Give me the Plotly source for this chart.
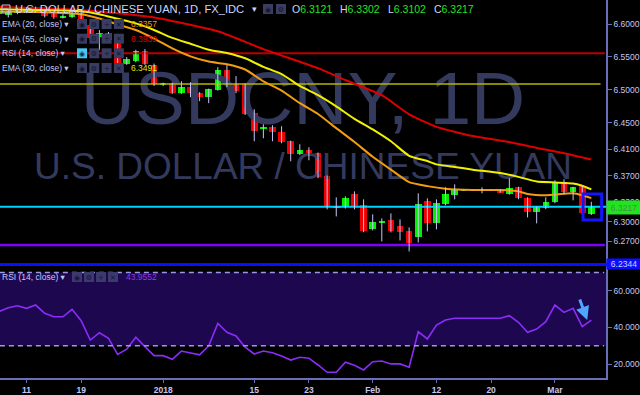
import plotly.graph_objects as go

# ---------------- data ----------------
dates = [
    "2017-12-06", "2017-12-07", "2017-12-08", "2017-12-11", "2017-12-12", "2017-12-13", "2017-12-14",
    "2017-12-15", "2017-12-18", "2017-12-19", "2017-12-20", "2017-12-21", "2017-12-22", "2017-12-25",
    "2017-12-26", "2017-12-27", "2017-12-28", "2017-12-29", "2018-01-01", "2018-01-02", "2018-01-03",
    "2018-01-04", "2018-01-05", "2018-01-08", "2018-01-09", "2018-01-10", "2018-01-11", "2018-01-12",
    "2018-01-15", "2018-01-16", "2018-01-17", "2018-01-18", "2018-01-19", "2018-01-22", "2018-01-23",
    "2018-01-24", "2018-01-25", "2018-01-26", "2018-01-29", "2018-01-30", "2018-01-31", "2018-02-01",
    "2018-02-02", "2018-02-05", "2018-02-06", "2018-02-07", "2018-02-08", "2018-02-09", "2018-02-12",
    "2018-02-13", "2018-02-14", "2018-02-15", "2018-02-16", "2018-02-19", "2018-02-20", "2018-02-21",
    "2018-02-22", "2018-02-23", "2018-02-26", "2018-02-27", "2018-02-28", "2018-03-01", "2018-03-02",
    "2018-03-05", "2018-03-06", "2018-03-07",
]
opens = [
    6.6160, 6.6137, 6.6182, 6.6205, 6.6212, 6.6182, 6.6150, 6.6106, 6.6106, 6.6167, 6.5985, 6.5802,
    6.5863, 6.5772, 6.5392, 6.5438, 6.5589, 6.5377, 6.5072, 6.5103, 6.4951, 6.5042, 6.4951, 6.4890,
    6.4996, 6.5300, 6.5088, 6.5088, 6.4647, 6.4403, 6.4434, 6.4358, 6.4221, 6.4023, 6.4084, 6.4038,
    6.3689, 6.3215, 6.3217, 6.3415, 6.3248, 6.2883, 6.2989, 6.3020, 6.2928, 6.2852, 6.2761, 6.3308,
    6.2974, 6.3263, 6.3400, 6.3474, 6.3478, 6.3478, 6.3474, 6.3476, 6.3415, 6.3521, 6.3354, 6.3141,
    6.3202, 6.3293, 6.3597, 6.3445, 6.3536, 6.3121,
]
highs = [
    6.6250, 6.6225, 6.6245, 6.6255, 6.6265, 6.6228, 6.6180, 6.6150, 6.6190, 6.6200, 6.6020, 6.5909,
    6.5880, 6.5790, 6.5500, 6.5610, 6.5620, 6.5400, 6.5110, 6.5110, 6.5133, 6.5118, 6.4966, 6.5020,
    6.5346, 6.5377, 6.5209, 6.5100, 6.4707, 6.4479, 6.4464, 6.4449, 6.4230, 6.4175, 6.4130, 6.4050,
    6.3700, 6.3369, 6.3384, 6.3460, 6.3339, 6.3111, 6.3050, 6.3126, 6.3035, 6.2913, 6.3430, 6.3354,
    6.3339, 6.3521, 6.3567, 6.3480, 6.3482, 6.3521, 6.3480, 6.3490, 6.3658, 6.3530, 6.3370, 6.3230,
    6.3369, 6.3628, 6.3643, 6.3530, 6.3550, 6.3302,
]
lows = [
    6.6120, 6.6100, 6.6150, 6.6165, 6.6180, 6.6100, 6.6080, 6.6085, 6.6090, 6.6030, 6.5770, 6.5605,
    6.5740, 6.5390, 6.5380, 6.5420, 6.5380, 6.5060, 6.5060, 6.4940, 6.4940, 6.4890, 6.4829, 6.4799,
    6.4990, 6.5042, 6.4951, 6.4620, 6.4221, 6.4266, 6.4221, 6.4190, 6.3917, 6.4010, 6.3932, 6.3660,
    6.3187, 6.3080, 6.3200, 6.3187, 6.2840, 6.2867, 6.2700, 6.2837, 6.2715, 6.2548, 6.2685, 6.2852,
    6.2883, 6.3250, 6.3339, 6.3470, 6.3472, 6.3430, 6.3470, 6.3440, 6.3410, 6.3340, 6.3065, 6.2974,
    6.3190, 6.3280, 6.3415, 6.3324, 6.3110, 6.3102,
]
closes = [
    6.6200, 6.6182, 6.6205, 6.6212, 6.6228, 6.6121, 6.6106, 6.6120, 6.6167, 6.6046, 6.5787, 6.5863,
    6.5757, 6.5407, 6.5468, 6.5589, 6.5392, 6.5088, 6.5103, 6.4951, 6.5042, 6.4951, 6.4890, 6.5012,
    6.5300, 6.5072, 6.4981, 6.4631, 6.4373, 6.4434, 6.4358, 6.4206, 6.4023, 6.4084, 6.4038, 6.3673,
    6.3217, 6.3225, 6.3354, 6.3217, 6.2852, 6.2989, 6.3004, 6.2852, 6.2837, 6.2669, 6.3263, 6.2974,
    6.3278, 6.3415, 6.3476, 6.3478, 6.3476, 6.3476, 6.3478, 6.3450, 6.3506, 6.3354, 6.3141, 6.3217,
    6.3293, 6.3597, 6.3445, 6.3521, 6.3126, 6.3217,
]
rsi14 = [
    48.7, 50.7, 51.8, 50.4, 52.2, 47.7, 45.8, 45.8, 49.9, 43.7, 33.1, 37.1, 34.1, 25.3, 28.1, 34.6,
    29.5, 24.6, 24.6, 22.6, 27.1, 25.9, 25.0, 30.0, 42.2, 37.3, 35.3, 29.2, 25.5, 27.1, 26.2, 24.4,
    22.2, 23.7, 23.2, 19.5, 15.5, 15.5, 21.0, 19.3, 16.8, 21.3, 21.7, 20.1, 20.1, 18.3, 37.7, 33.7,
    41.3, 44.0, 45.0, 45.0, 45.0, 45.0, 45.0, 45.0, 46.4, 42.8, 37.3, 39.1, 43.1, 52.2, 48.2, 50.4,
    40.4, 43.9552,
]

ema20_dates = ["2017-12-06", "2017-12-13", "2017-12-19", "2017-12-21", "2017-12-25", "2017-12-27",
               "2017-12-29", "2018-01-02", "2018-01-04", "2018-01-08", "2018-01-10", "2018-01-12",
               "2018-01-16", "2018-01-18", "2018-01-22", "2018-01-24", "2018-01-26", "2018-01-30",
               "2018-02-01", "2018-02-05", "2018-02-07", "2018-02-09", "2018-02-13", "2018-02-16",
               "2018-02-22", "2018-02-23", "2018-02-26", "2018-02-28", "2018-03-01", "2018-03-05",
               "2018-03-06", "2018-03-07"]
ema20_vals = [6.6190, 6.6180, 6.6150, 6.6085, 6.5995, 6.5910, 6.5780, 6.5630, 6.5510, 6.5430,
              6.5390, 6.5310, 6.5130, 6.4990, 6.4800, 6.4635, 6.4420, 6.4210, 6.3985, 6.3790,
              6.3600, 6.3540, 6.3500, 6.3480, 6.3478, 6.3460, 6.3420, 6.3400, 6.3410, 6.3430,
              6.3400, 6.3357]

ema30_dates = ["2017-12-06", "2017-12-19", "2017-12-21", "2017-12-25", "2017-12-27", "2017-12-29",
               "2018-01-02", "2018-01-04", "2018-01-08", "2018-01-10", "2018-01-12", "2018-01-16",
               "2018-01-18", "2018-01-22", "2018-01-24", "2018-01-26", "2018-01-30", "2018-02-01",
               "2018-02-05", "2018-02-07", "2018-02-09", "2018-02-12", "2018-02-14", "2018-02-16",
               "2018-02-21", "2018-02-23", "2018-02-27", "2018-03-01", "2018-03-05", "2018-03-06",
               "2018-03-07"]
ema30_vals = [6.6225, 6.6195, 6.6150, 6.6080, 6.6010, 6.5910, 6.5790, 6.5700, 6.5610, 6.5560,
              6.5480, 6.5350, 6.5240, 6.5060, 6.4920, 6.4750, 6.4560, 6.4400, 6.4220, 6.4000,
              6.3920, 6.3870, 6.3830, 6.3790, 6.3740, 6.3680, 6.3610, 6.3595, 6.3580, 6.3545,
              6.3491]

ema55_dates = ["2017-12-06", "2017-12-19", "2017-12-29", "2018-01-09", "2018-01-16", "2018-01-24",
               "2018-01-29", "2018-02-02", "2018-02-07", "2018-02-12", "2018-02-16", "2018-02-22",
               "2018-02-27", "2018-03-02", "2018-03-07"]
ema55_vals = [6.6260, 6.6215, 6.6100, 6.5890, 6.5620, 6.5330, 6.5150, 6.4920, 6.4630, 6.4440,
              6.4300, 6.4210, 6.4120, 6.4040, 6.3945]

hline_prices = [6.5555, 6.5090, 6.3225, 6.2645]
hline_colors = ["#b80000", "#b4b400", "#00d2ff", "#7f00ff"]
hline_widths = [2, 1.5, 2, 2.5]

box_dates = ["2018-03-06", "2018-03-07"]
box_prices = [6.3026, 6.3422]

price_ticks = [6.60, 6.55, 6.50, 6.45, 6.41, 6.37, 6.33, 6.30, 6.27]
rsi_ticks = [20, 40, 60]
rsi_levels = [30, 70]
date_tick_dates = ["2017-12-11", "2017-12-19", "2018-01-01", "2018-01-15", "2018-01-23",
                   "2018-02-01", "2018-02-12", "2018-02-20", "2018-03-01"]
date_tick_text = ["11", "19", "2018", "15", "23", "Feb", "12", "20", "Mar"]

legend_rows = ["EMA (20, close)", "EMA (55, close)", "RSI (14, close)", "EMA (30, close)"]
legend_values = ["6.3357", "6.3939", "", "6.3491"]
legend_colors = ["#f59a00", "#d80000", "", "#e8e800"]
rsi_label = "43.9552"
bottom_label = "6.2344"

# ---------------- geometry helpers ----------------
PW, PH = 606, 378          # plot area in px
MAIN_BOTTOM = 264.5        # px
RSI_TOP = 266
FONT = "Liberation Sans, Arial, DejaVu Sans"
LAV = "#c4c7f2"
AXC = "#6a6eb8"

idx = {d: i for i, d in enumerate(dates)}
xs = list(range(len(dates)))
xr = [0.09, 66.61]
yr = [6.2350, 6.6365]
rr = [12.4, 73.5]


def price_at(py):
    return yr[1] - py / MAIN_BOTTOM * (yr[1] - yr[0])


def PX(x):
    return x / PW


def PY(y):
    return 1 - y / PH


fig = go.Figure()

# watermark (drawn first so everything else sits on top)
xmid = (xr[0] + xr[1]) / 2
fig.add_trace(go.Scatter(x=[xmid], y=[price_at(105.5)], mode="text", text=["USDCNY, 1D"],
                         textposition="middle center",
                         textfont=dict(size=75, color="#343a5e", family=FONT),
                         hoverinfo="skip", showlegend=False))
fig.add_trace(go.Scatter(x=[xmid], y=[price_at(170)], mode="text", text=["U.S. DOLLAR / CHINESE YUAN"],
                         textposition="middle center",
                         textfont=dict(size=37, color="#343a5e", family=FONT),
                         hoverinfo="skip", showlegend=False))

# horizontal drawn levels
x_end = [xr[1] - 0.12, xr[1] - 0.6, xr[1], xr[1] - 0.12]
for p, c, w, xe in zip(hline_prices, hline_colors, hline_widths, x_end):
    fig.add_trace(go.Scatter(x=[xr[0] - 1, xe], y=[p, p], mode="lines",
                             line=dict(color=c, width=w), hoverinfo="skip", showlegend=False))

# EMAs
for dl, vl, col in [(ema55_dates, ema55_vals, "#dc0000"),
                    (ema30_dates, ema30_vals, "#f0f000"),
                    (ema20_dates, ema20_vals, "#f39c12")]:
    fig.add_trace(go.Scatter(x=[idx[d] for d in dl], y=vl, mode="lines",
                             line=dict(color=col, width=2, shape="spline", smoothing=0.5),
                             hoverinfo="skip", showlegend=False))

# wicks
wx, wy = [], []
for i, h, l in zip(xs, highs, lows):
    wx += [i, i, None]
    wy += [l, h, None]
fig.add_trace(go.Scatter(x=wx, y=wy, mode="lines", line=dict(color="#c6c6f4", width=1),
                         hoverinfo="skip", showlegend=False))

# bodies
base = [min(o, c) for o, c in zip(opens, closes)]
height = [max(abs(c - o), 0.0012) for o, c in zip(opens, closes)]
cols = ["#00f000" if c >= o else "#f00000" for o, c in zip(opens, closes)]
fig.add_trace(go.Bar(x=xs, y=height, base=base, width=0.72, marker=dict(color=cols, line=dict(width=0)),
                     hoverinfo="skip", showlegend=False))

# RSI
fig.add_trace(go.Scatter(x=xs, y=rsi14, mode="lines", xaxis="x2", yaxis="y2",
                         line=dict(color="#8b2cf8", width=1.6), hoverinfo="skip", showlegend=False))

shapes = []
# RSI band + dashed levels
shapes.append(dict(type="rect", xref="x2", yref="y2", x0=xr[0] - 1, x1=xr[1], y0=rsi_levels[0],
                   y1=rsi_levels[1], fillcolor="#1d0850", line=dict(width=0), layer="below"))
for lv in rsi_levels:
    shapes.append(dict(type="line", xref="x2", yref="y2", x0=xr[0] - 1, x1=xr[1] - 0.2, y0=lv, y1=lv,
                       line=dict(color="#9c97e6", width=1.5, dash="5px,4px"), layer="above"))
# blue drawn rectangle
shapes.append(dict(type="rect", xref="x", yref="y", x0=idx[box_dates[0]] + 0.09,
                   x1=idx[box_dates[1]] + 1.13, y0=box_prices[0], y1=box_prices[1],
                   line=dict(color="#1414ff", width=3), fillcolor="rgba(0,0,0,0)", layer="above"))
# pane separator
shapes.append(dict(type="line", xref="paper", yref="paper", x0=0, x1=1.06, y0=PY(264.5), y1=PY(264.5),
                   line=dict(color="#0c0cff", width=3)))
fig.add_annotation(xref="paper", yref="paper", x=1, y=PY(263.5), xanchor="left", yanchor="middle",
                   text=bottom_label, showarrow=False, bgcolor="#0c0cff", width=34, height=10,
                   borderpad=0, font=dict(size=8.5, color="#d0d0ff", family=FONT))

# current price label
fig.add_annotation(xref="paper", yref="y", x=1, y=closes[-1], xanchor="left", yanchor="middle",
                   text=f"{closes[-1]:.4f}", showarrow=False, bgcolor="#1fe41f", width=34, height=13,
                   borderpad=0, font=dict(size=8.5, color="#4b8d4b", family=FONT))

# blue arrow in RSI pane
fig.add_annotation(xref="x2", yref="y2", x=64.55, y=44.0, ax=-8, ay=-22, text="", showarrow=True,
                   arrowcolor="#4ea6ff", arrowwidth=3, arrowhead=2, arrowsize=0.9)


# ---------------- legend overlay ----------------
def txt(x, y, text, size, color, anchor="left"):
    fig.add_annotation(xref="paper", yref="paper", x=PX(x), y=PY(y), text=text, showarrow=False,
                       xanchor=anchor, yanchor="middle", borderpad=0,
                       font=dict(size=size, color=color, family=FONT))


def iconbox(x0, y, glyph, fill="#3a3d62", gcol="#14142c"):
    shapes.append(dict(type="rect", xref="paper", yref="paper", x0=PX(x0), x1=PX(x0 + 10),
                       y0=PY(y + 5), y1=PY(y - 5), fillcolor=fill, line=dict(width=0), layer="above"))
    fig.add_annotation(xref="paper", yref="paper", x=PX(x0 + 5), y=PY(y), text=glyph, showarrow=False,
                       xanchor="center", yanchor="middle", borderpad=0, width=8, height=9,
                       font=dict(size=7, color=gcol, family="DejaVu Sans"))


glyphs = ["◉", "⚙", "+", "✕"]

# title row
shapes.append(dict(type="rect", xref="paper", yref="paper", x0=PX(2), x1=PX(10), y0=PY(13), y1=PY(5),
                   line=dict(color=LAV, width=1), fillcolor="rgba(0,0,0,0)"))
shapes.append(dict(type="line", xref="paper", yref="paper", x0=PX(3.5), x1=PX(8.5), y0=PY(9), y1=PY(9),
                   line=dict(color=LAV, width=1)))
txt(14, 9, "U.S. DOLLAR / CHINESE YUAN, 1D, FX_IDC", 11.2, "#d0d3f6")
txt(251, 9, "▾", 9, "#d0d3f6")
iconbox(263, 9, glyphs[0])
iconbox(276, 9, glyphs[1])
ohlc = [("O", opens[-1], 291), ("H", highs[-1], 339), ("L", lows[-1], 387), ("C", closes[-1], 433)]
for lab, val, x in ohlc:
    txt(x, 9, f"{lab}<span style='color:#22e422'>{val:.4f}</span>", 10.5, "#d0d3f6")

row_y = [24, 38.7, 53.3, 68]
for name, val, col, y in zip(legend_rows, legend_values, legend_colors, row_y):
    txt(1, y, name + " ▾", 8.5, LAV)
    for k, g in enumerate(glyphs):
        if name.startswith("RSI") and k == 0:
            iconbox(77 + k * 12.3, y, g, fill="#48c6f4", gcol="#0b3550")
        else:
            iconbox(77 + k * 12.3, y, g)
    if val:
        txt(130, y, val, 8.5, col)

# RSI pane legend
txt(1, 277, "RSI (14, close) ▾", 8.5, LAV)
for k, g in enumerate(glyphs):
    iconbox(72 + k * 12, 277, g, fill="#3c396c", gcol="#16143a")
txt(125, 277, rsi_label, 8.5, "#8a3ae6")

tickfont = dict(size=8.5, color=LAV, family=FONT)
fig.update_layout(
    template="none",
    width=640, height=395, margin=dict(l=0, r=34, t=0, b=17, autoexpand=False),
    paper_bgcolor="#000000", plot_bgcolor="#000000", showlegend=False, shapes=shapes,
    bargap=0,
    xaxis=dict(domain=[0, 1], range=xr, anchor="y", showticklabels=False, showgrid=False,
               zeroline=False, showline=False, ticks="", automargin=False),
    yaxis=dict(domain=[1 - MAIN_BOTTOM / PH, 1], range=yr, side="right", anchor="x", automargin=False,
               tickvals=price_ticks, ticktext=[f"{v:.4f}" for v in price_ticks],
               ticks="outside", ticklen=4, tickcolor=AXC, showline=True, linecolor=AXC, linewidth=1.5,
               showgrid=False, zeroline=False, tickfont=tickfont),
    xaxis2=dict(domain=[0, 1], range=xr, anchor="y2", showgrid=False, zeroline=False, automargin=False,
                tickvals=[idx[d] for d in date_tick_dates], ticktext=date_tick_text,
                ticks="outside", ticklen=3, tickcolor=AXC, showline=True, linecolor=AXC, linewidth=1.5,
                tickfont=dict(size=8.5, color=LAV, family=FONT, weight="bold")),
    yaxis2=dict(domain=[0, (PH - RSI_TOP) / PH], range=rr, side="right", anchor="x2", automargin=False,
                tickvals=rsi_ticks, ticktext=[f"{v:.4f}" for v in rsi_ticks],
                ticks="outside", ticklen=4, tickcolor=AXC, showline=True, linecolor=AXC, linewidth=1.5,
                showgrid=False, zeroline=False, tickfont=tickfont),
)

fig.write_html("out.html", config={"displayModeBar": False})
